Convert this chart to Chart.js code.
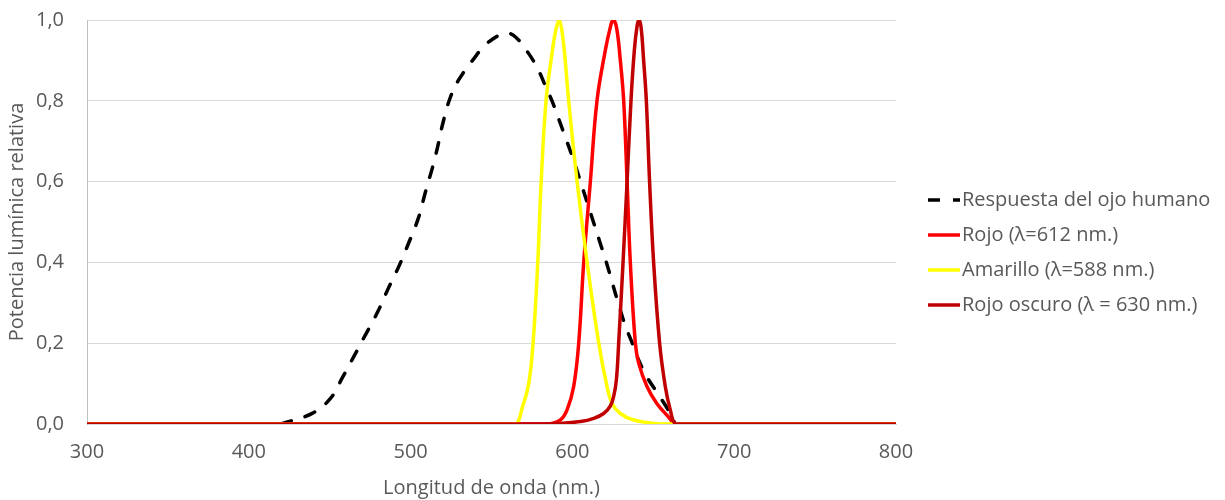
<!DOCTYPE html>
<html lang="es">
<head>
<meta charset="utf-8">
<title>Respuesta del ojo humano y espectros de LED</title>
<script src="https://cdn.jsdelivr.net/npm/chart.js@4.4.1/dist/chart.umd.min.js"></script>
<style>
  html, body { margin: 0; padding: 0; background: #ffffff; }
  canvas { display: block; }
</style>
</head>
<body>
<canvas id="grafico" width="1225" height="500"></canvas>
<script>
// Longitudes de onda (nm) y potencia relativa de cada curva
const ojoNm  = [420, 439.5, 450.6, 458, 464.8, 472, 479.6, 485.8, 492.6, 498.8, 505, 509, 513.6, 516.7, 520.4, 524.7, 529.6, 538.3, 547.5, 558.6, 564.8, 572.8, 579, 584, 587.4, 592, 597, 601, 605, 609, 613, 617, 621, 625, 629, 633, 637, 640, 646, 654, 660.5, 663.6];
const ojoVal = [0, 0.027, 0.064, 0.116, 0.166, 0.22, 0.277, 0.332, 0.389, 0.448, 0.512, 0.572, 0.636, 0.686, 0.752, 0.81, 0.851, 0.90, 0.943, 0.967, 0.958, 0.918, 0.876, 0.83, 0.8, 0.75, 0.695, 0.65, 0.6, 0.55, 0.5, 0.45, 0.4, 0.345, 0.29, 0.24, 0.2, 0.167, 0.117, 0.068, 0.026, 0];

const rojoNm  = [300, 580, 586, 592.6, 596.7, 600.8, 603.9, 607, 611.1, 615.2, 620.4, 623.5, 625.1, 627.2, 629.6, 631.7, 633.8, 635.8, 638.9, 641, 646.1, 652.3, 658.4, 663.6, 670, 800];
const rojoVal = [0, 0, 0, 0.01, 0.035, 0.093, 0.2, 0.4, 0.6, 0.8, 0.926, 0.983, 1.0, 0.983, 0.901, 0.8, 0.6, 0.4, 0.2, 0.15, 0.093, 0.05, 0.022, 0, 0, 0];

const amarilloNm  = [300, 560, 565.4, 569, 573, 575.7, 578.6, 580.7, 583.7, 586.8, 589.5, 591.8, 594.3, 597.7, 602.9, 609.1, 616.3, 621.4, 624.5, 629.6, 637.9, 654, 660, 800];
const amarilloVal = [0, 0, 0, 0.04, 0.10, 0.2, 0.4, 0.6, 0.8, 0.9, 0.97, 1.0, 0.95, 0.8, 0.6, 0.4, 0.2, 0.093, 0.051, 0.026, 0.01, 0, 0, 0];

const oscuroNm  = [300, 575, 580, 592.6, 605, 613.2, 619.3, 623.5, 625.6, 627.2, 628.6, 631.3, 633.8, 636.2, 638.3, 639.9, 641, 642.4, 644, 645.7, 647.7, 650.2, 653.9, 657.4, 660.5, 663.6, 670, 800];
const oscuroVal = [0, 0, 0, 0.002, 0.006, 0.014, 0.026, 0.045, 0.07, 0.11, 0.2, 0.4, 0.6, 0.8, 0.926, 0.983, 1.0, 0.983, 0.901, 0.8, 0.6, 0.4, 0.2, 0.093, 0.035, 0, 0, 0];

const etiquetas = ['Respuesta del ojo humano', 'Rojo (\u03bb=612 nm.)', 'Amarillo (\u03bb=588 nm.)', 'Rojo oscuro (\u03bb = 630 nm.)'];
const colores   = ['#000000', '#ff0000', '#ffff00', '#c00000'];

const xMin = 300, xMax = 800, xPaso = 100;
const yMin = 0, yMax = 1, yPaso = 0.2;

const FUENTE = '"Open Sans", "DejaVu Sans", sans-serif';
const GRIS_TEXTO = '#595959';

function puntos(xs, ys) {
  return xs.map((x, i) => ({ x: x, y: ys[i] }));
}

function serie(idx, xs, ys, orden, extra) {
  return Object.assign({
    label: etiquetas[idx],
    data: puntos(xs, ys),
    borderColor: colores[idx],
    backgroundColor: colores[idx],
    borderWidth: 3.5,
    pointRadius: 0,
    pointHoverRadius: 0,
    fill: false,
    tension: 0.4,
    showLine: true,
    order: orden
  }, extra || {});
}

// Leyenda dibujada a la derecha del área del gráfico
const leyendaDerecha = {
  id: 'leyendaDerecha',
  afterDraw(chart) {
    const ctx = chart.ctx;
    const area = chart.chartArea;
    const x0 = area.right + 32;
    const largo = 32;
    ctx.save();
    ctx.font = '20px ' + FUENTE;
    ctx.textBaseline = 'middle';
    ctx.textAlign = 'left';
    chart.data.datasets.forEach((ds, i) => {
      const y = area.top + 180 + i * 35;
      ctx.beginPath();
      ctx.lineWidth = ds.borderWidth;
      ctx.lineCap = 'butt';
      ctx.strokeStyle = ds.borderColor;
      ctx.setLineDash(ds.borderDash ? [12, 13] : []);
      ctx.moveTo(x0, y);
      ctx.lineTo(x0 + largo, y);
      ctx.stroke();
      ctx.setLineDash([]);
      ctx.fillStyle = GRIS_TEXTO;
      ctx.fillText(ds.label, x0 + largo + 2, y);
    });
    ctx.restore();
  }
};

new Chart(document.getElementById('grafico'), {
  type: 'scatter',
  data: {
    datasets: [
      serie(0, ojoNm, ojoVal, 3, { borderDash: [10.5, 14.5], borderCapStyle: 'round' }),
      serie(1, rojoNm, rojoVal, 2),
      serie(2, amarilloNm, amarilloVal, 1),
      serie(3, oscuroNm, oscuroVal, 0)
    ]
  },
  options: {
    responsive: false,
    devicePixelRatio: 1,
    animation: false,
    layout: { padding: { top: 20, right: 329, bottom: 0, left: 0 } },
    plugins: {
      legend: { display: false },
      tooltip: { enabled: false }
    },
    scales: {
      x: {
        type: 'linear',
        min: xMin,
        max: xMax,
        afterFit(scale) { scale.height = 76; },
        ticks: {
          stepSize: xPaso,
          color: GRIS_TEXTO,
          font: { family: FUENTE, size: 20 },
          padding: 16,
          maxRotation: 0
        },
        grid: { display: false, drawTicks: false },
        border: { display: true, color: '#d9d9d9', width: 1 },
        title: {
          display: true,
          text: 'Longitud de onda (nm.)',
          color: GRIS_TEXTO,
          font: { family: FUENTE, size: 20 },
          padding: { top: 0, bottom: 0 }
        }
      },
      y: {
        type: 'linear',
        min: yMin,
        max: yMax,
        afterFit(scale) {
          scale.width = 87;
          scale.paddingTop = 0;
          scale.paddingBottom = 0;
        },
        ticks: {
          stepSize: yPaso,
          color: GRIS_TEXTO,
          font: { family: FUENTE, size: 20 },
          padding: 23,
          callback: (v) => v.toFixed(1).replace('.', ',')
        },
        grid: { color: '#d9d9d9', lineWidth: 1, drawTicks: false },
        border: { display: true, color: '#bfbfbf', width: 1 },
        title: {
          display: true,
          text: 'Potencia lumínica relativa',
          color: GRIS_TEXTO,
          font: { family: FUENTE, size: 20 },
          padding: { top: 5, bottom: 0 }
        }
      }
    }
  },
  plugins: [leyendaDerecha]
});
</script>
</body>
</html>
